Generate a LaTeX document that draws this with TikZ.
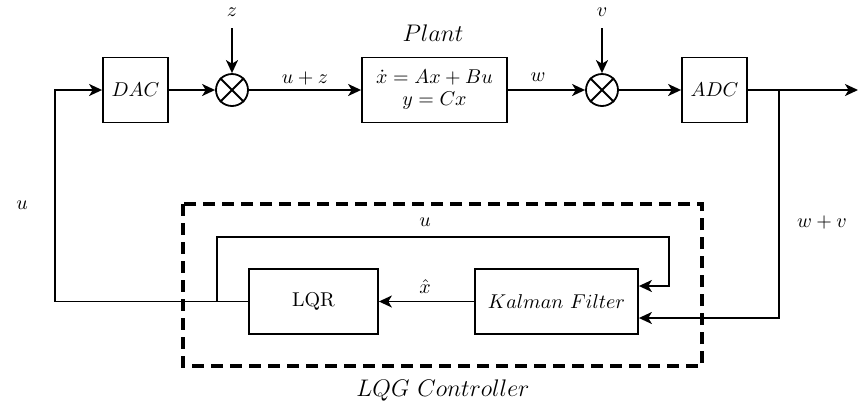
\documentclass[tikz,border=0pt]{standalone}
\usetikzlibrary{arrows.meta,calc}
\begin{document}
\begin{tikzpicture}[x=0.5pt,y=-0.5pt,
  line width=0.9pt,
  blk/.style={draw, minimum height=32.5pt, minimum width=32.5pt, inner sep=2pt},
  sumnode/.style={draw, circle, minimum size=16pt, inner sep=0pt},
  arr/.style={-{Stealth[length=6.5pt,width=6pt,inset=1.8pt]}},
  dashbox/.style={line width=1.8pt, dash pattern=on 6pt off 3.5pt}]
\useasboundingbox (0,0) rectangle (868,403);
% blocks
\node[blk] (dac) at (135.5,90) {$DAC$};
\node[sumnode] (s1) at (232,90) {};
\draw (s1.north west) -- (s1.south east) (s1.north east) -- (s1.south west);
\node[blk, minimum width=72.5pt, align=center] (plant) at (434.5,90) {$\dot{x}=Ax+Bu$\\[-1pt]$y=Cx$};
\node[font=\large] (plantlbl) at (433,33) {$Plant$};
\node[sumnode] (s2) at (602,90) {};
\draw (s2.north west) -- (s2.south east) (s2.north east) -- (s2.south west);
\node[blk] (adc) at (714.5,90) {$ADC$};
\coordinate (br) at (779,90);
\coordinate (out) at (858,90);
\node[blk, minimum width=81.5pt] (kf) at (556.5,301.5) {$Kalman\ Filter$};
\node[blk, minimum width=64.5pt] (lqr) at (313.5,301.5) {LQR};
% disturbances
\node (z) at (232,12) {$z$};
\coordinate (zt) at (232,28);
\node (v) at (602,12) {$v$};
\coordinate (vt) at (602,28);
\draw[arr] (zt) -- (s1);
\draw[arr] (vt) -- (s2);
% forward path
\draw[arr] (dac) -- (s1);
\draw[arr] (s1) -- (plant);
\node (uz) at (305,78) {$u+z$};
\draw[arr] (plant) -- (s2);
\node (w) at (538,77) {$w$};
\draw[arr] (s2) -- (adc);
\draw[arr] (adc.east) -- (out);
% measurement to Kalman
\draw[arr] (br) |- ([yshift=-8.25pt]kf.east);
\node (wv) at (822,222) {$w+v$};
% controller internals
\draw[arr] (kf) -- (lqr);
\node (xh) at (425,287) {$\hat{x}$};
\coordinate (j) at (217,301.5);
\coordinate (ul) at (217,237);
\coordinate (ur) at (669,237);
\draw[arr] (j) -- (ul) -- (ur) |- ([yshift=7.75pt]kf.east);
\node (uin) at (425,222) {$u$};
% feedback to DAC
\coordinate (lft) at (55,301.5);
\draw[arr] (lqr.west) -- (lft) |- (dac.west);
\node (uout) at (22,205) {$u$};
% LQG box
\draw[dashbox] (183,204) rectangle (702,366);
\node[font=\large] (lqg) at (443,390) {$LQG\ Controller$};
\end{tikzpicture}
\end{document}
